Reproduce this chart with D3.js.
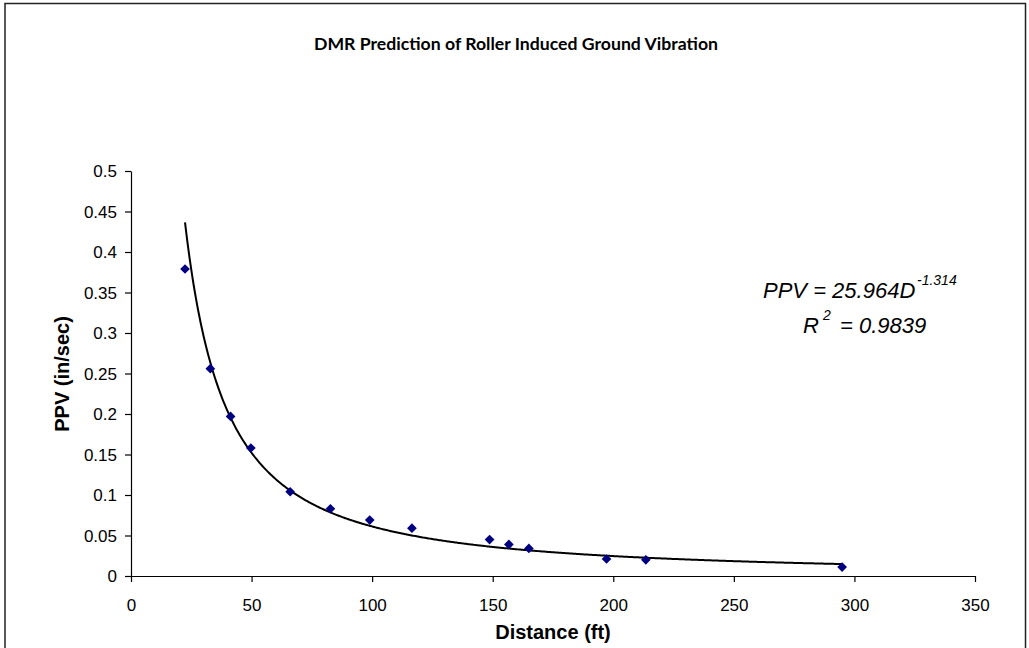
<!DOCTYPE html>
<html>
<head>
<meta charset="utf-8">
<script src="https://cdn.jsdelivr.net/npm/d3@7"></script>
<style>
  html, body { margin: 0; padding: 0; background: #fff; }
  svg { display: block; }
</style>
</head>
<body>
<svg id="chart" width="1029" height="648"></svg>
<script>
// ---- Data ----
const distance = [22.4, 32.9, 41.3, 49.7, 66.0, 82.7, 99.0, 116.5, 148.7, 156.7, 165.0, 197.2, 213.5, 294.9];
const ppv      = [0.379, 0.256, 0.197, 0.158, 0.104, 0.083, 0.069, 0.059, 0.045, 0.039, 0.034, 0.021, 0.020, 0.011];
const xTicks = [0, 50, 100, 150, 200, 250, 300, 350];
const yTicks = [0, 0.05, 0.1, 0.15, 0.2, 0.25, 0.3, 0.35, 0.4, 0.45, 0.5];
// Power trendline shown on chart: PPV = 25.964 D^-1.314
const trendCoef = 25.964;
const trendExp = -1.314;
const trendRange = [22.4, 294.9];
const titleText = "DMR Prediction of Roller Induced Ground Vibration";
const xLabel = "Distance (ft)";
const yLabel = "PPV (in/sec)";

const svg = d3.select("#chart");

// outer chart border
svg.append("rect")
  .attr("x", 5).attr("y", 3.5).attr("width", 1020.5).attr("height", 660)
  .attr("fill", "none").attr("stroke", "#222").attr("stroke-width", 1.5);

const x = d3.scaleLinear().domain([0, 350]).range([131, 975]);
const y = d3.scaleLinear().domain([0, 0.5]).range([576, 171]);

// title
svg.append("text")
  .attr("x", 516).attr("y", 50)
  .attr("text-anchor", "middle")
  .attr("font-family", "Lato, 'Open Sans', sans-serif")
  .attr("font-weight", "bold")
  .attr("font-size", 17.5)
  .attr("textLength", 404).attr("lengthAdjust", "spacingAndGlyphs")
  .attr("fill", "#000")
  .text(titleText);

// axes
const xAxis = d3.axisBottom(x).tickValues(xTicks).tickSize(6).tickSizeOuter(0).tickFormat(d3.format("d"));
const yAxis = d3.axisLeft(y).tickValues(yTicks).tickSize(6).tickSizeOuter(0).tickFormat(d => String(+d.toFixed(2)));

const gx = svg.append("g").attr("transform", "translate(0,576)").call(xAxis);
const gy = svg.append("g").attr("transform", "translate(131,0)").call(yAxis);

[gx, gy].forEach(g => {
  g.select(".domain").attr("stroke", "#000").attr("stroke-width", 1.2);
  g.selectAll(".tick line").attr("stroke", "#000").attr("stroke-width", 1.2);
  g.selectAll(".tick text")
    .attr("font-family", "Arial, 'Liberation Sans', sans-serif")
    .attr("font-size", 17)
    .attr("fill", "#000");
});
gx.selectAll(".tick text").attr("dy", null).attr("y", 35);
gy.selectAll(".tick text").attr("x", -14).attr("dy", "0.35em");

// axis titles
svg.append("text")
  .attr("x", 553).attr("y", 639)
  .attr("text-anchor", "middle")
  .attr("font-family", "Arial, 'Liberation Sans', sans-serif")
  .attr("font-weight", "bold").attr("font-size", 20)
  .attr("fill", "#000")
  .text(xLabel);

svg.append("text")
  .attr("transform", "translate(69,374) rotate(-90)")
  .attr("text-anchor", "middle")
  .attr("font-family", "Arial, 'Liberation Sans', sans-serif")
  .attr("font-weight", "bold").attr("font-size", 20)
  .attr("fill", "#000")
  .text(yLabel);

// trendline
const trendX = d3.range(trendRange[0], trendRange[1], 0.5).concat([trendRange[1]]);
const trendPts = trendX.map(d => [d, trendCoef * Math.pow(d, trendExp)]);
svg.append("path")
  .datum(trendPts)
  .attr("fill", "none").attr("stroke", "#000").attr("stroke-width", 2)
  .attr("d", d3.line().x(d => x(d[0])).y(d => y(d[1])));

// data points (diamonds)
const pts = distance.map((d, i) => ({ d, v: ppv[i] }));
svg.append("g").selectAll("path")
  .data(pts).enter().append("path")
  .attr("transform", p => `translate(${x(p.d)},${y(p.v)})`)
  .attr("d", d3.symbol().type(d3.symbolDiamond2).size(60))
  .attr("fill", "#000080");

// equation annotation
const eq = svg.append("text")
  .attr("x", 763).attr("y", 298)
  .attr("font-family", "Arial, 'Liberation Sans', sans-serif")
  .attr("font-style", "italic").attr("font-size", 22)
  .attr("fill", "#000");
eq.append("tspan").text("PPV = 25.964D");
eq.append("tspan").attr("font-size", 14).attr("dy", -13).attr("x", 917).text("-1.314");

const r2 = svg.append("text")
  .attr("x", 803).attr("y", 333)
  .attr("font-family", "Arial, 'Liberation Sans', sans-serif")
  .attr("font-style", "italic").attr("font-size", 22)
  .attr("fill", "#000");
r2.append("tspan").text("R");
r2.append("tspan").attr("font-size", 14).attr("dy", -13).attr("x", 823).text("2");
r2.append("tspan").attr("dy", 13).attr("x", 840).text("= 0.9839");
</script>
</body>
</html>
